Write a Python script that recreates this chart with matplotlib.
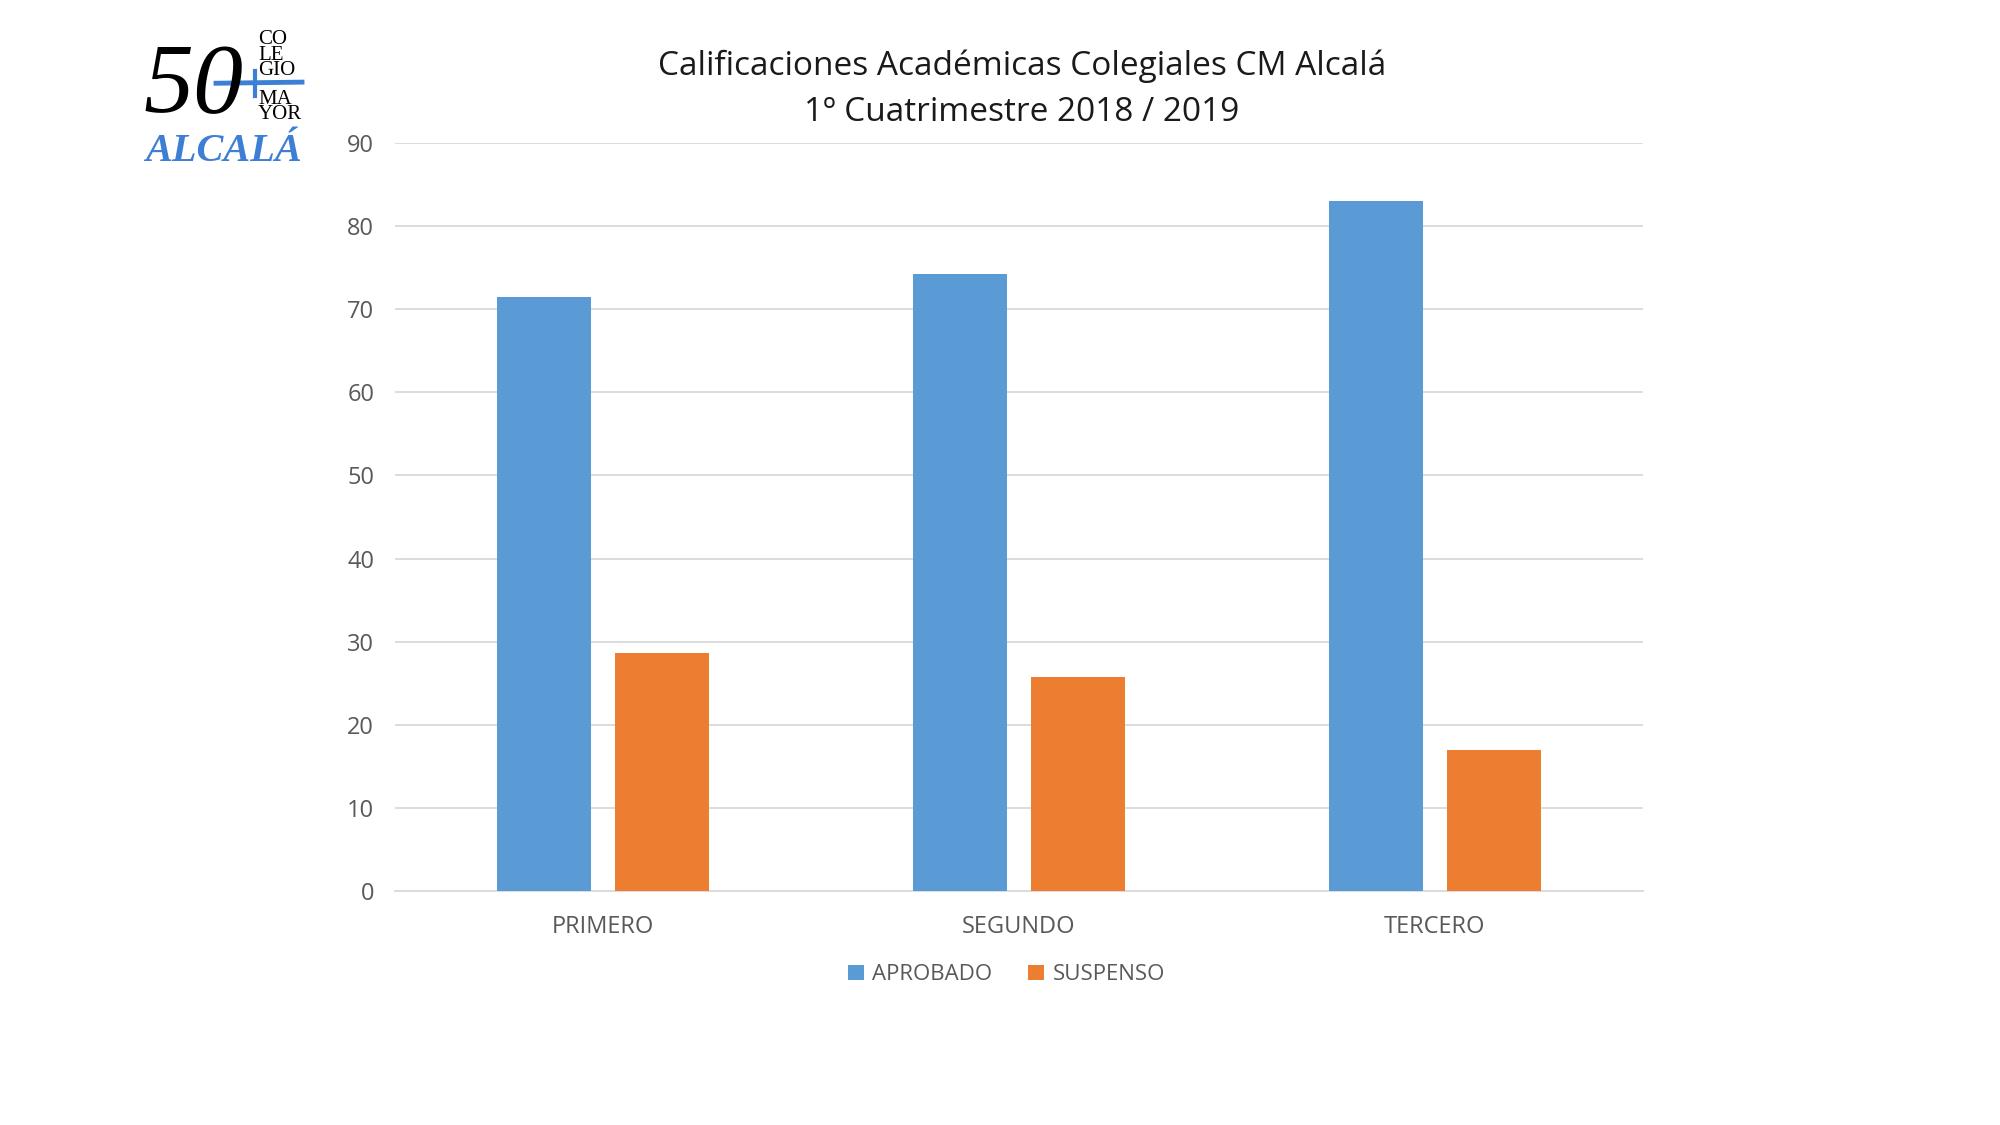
import matplotlib.pyplot as plt
import numpy as np
from matplotlib.lines import Line2D

categorias = ['PRIMERO', 'SEGUNDO', 'TERCERO']
aprobado = [71.4, 74.2, 83.0]
suspenso = [28.6, 25.8, 17.0]
series = ['APROBADO', 'SUSPENSO']
yticks = [0, 10, 20, 30, 40, 50, 60, 70, 80, 90]

azul = '#5B9BD5'
naranja = '#ED7D31'
gris = '#595959'

plt.rcParams['font.family'] = ['Open Sans', 'DejaVu Sans']

fig = plt.figure(figsize=(20, 11.25), dpi=100)
ax = fig.add_axes([0.1975, 0.208, 0.624, 0.665])

x = np.arange(len(categorias))
w = 0.226
ax.bar(x - 0.143, aprobado, w, color=azul, label=series[0], zorder=3)
ax.bar(x + 0.143, suspenso, w, color=naranja, label=series[1], zorder=3)

ax.set_xlim(-0.5, 2.5)
ax.set_ylim(0, 90)
ax.set_yticks(yticks)
ax.set_xticks(x)
ax.set_xticklabels(categorias)
ax.grid(axis='y', color='#D9D9D9', linewidth=1.3, zorder=0)
for s in ['top', 'right', 'left']:
    ax.spines[s].set_visible(False)
ax.spines['bottom'].set_color('#D9D9D9')
ax.spines['bottom'].set_linewidth(1.3)
ax.tick_params(axis='both', length=0, colors=gris, labelsize=17)
ax.tick_params(axis='y', pad=15)
ax.tick_params(axis='x', pad=17)

ax.legend(loc='upper center', bbox_to_anchor=(0.49, -0.071), ncol=2, frameon=False,
          fontsize=16, labelcolor=gris, handlelength=0.7, handleheight=0.7,
          handletextpad=0.4, columnspacing=1.6)

fig.text(0.511, 0.941, 'Calificaciones Académicas Colegiales CM Alcalá',
         ha='center', va='center', fontsize=24, color='#1a1a1a')
fig.text(0.511, 0.900, '1º Cuatrimestre 2018 / 2019',
         ha='center', va='center', fontsize=24, color='#1a1a1a')

# logo
logo_azul = '#3D7FD4'
fig.text(0.0715, 0.9215, '50', fontsize=72, family='Liberation Serif', style='italic',
         ha='left', va='center', color='black')
for t, yy in [('CO', 0.965), ('LE', 0.951), ('GIO', 0.937), ('MA', 0.912), ('YOR', 0.898)]:
    fig.text(0.129, yy, t, fontsize=15, family='Liberation Serif',
             ha='left', va='center', color='black')
fig.add_artist(Line2D([0.108, 0.151], [0.926, 0.927], color=logo_azul, lw=3.5))
fig.add_artist(Line2D([0.1275, 0.1275], [0.915, 0.937], color=logo_azul, lw=3))
fig.text(0.1115, 0.865, 'ALCALÁ', fontsize=29, family='Liberation Serif', style='italic',
         weight='bold', ha='center', va='center', color=logo_azul)

fig.savefig('out.png', dpi=100)
